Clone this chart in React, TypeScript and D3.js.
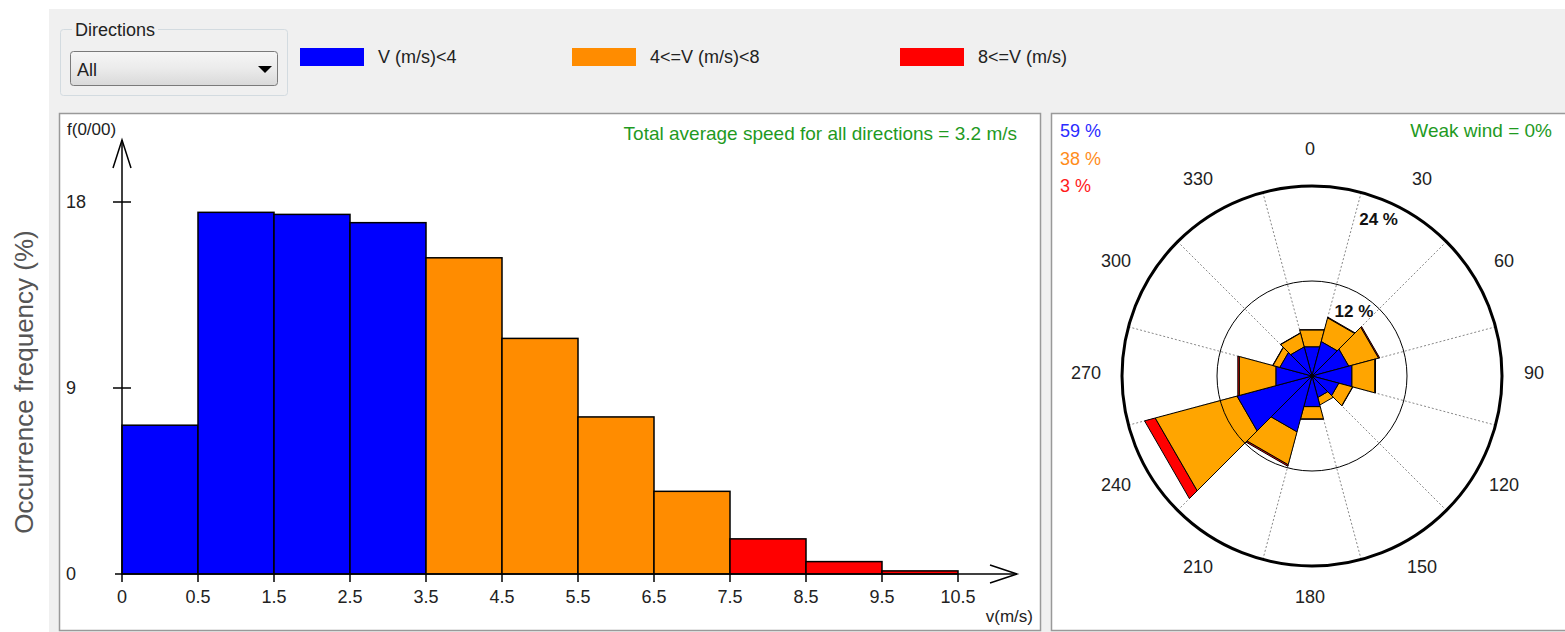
import React from 'react';
import * as d3 from 'd3';

// ---------- data ----------
const binLabels = ["0", "0.5", "1.5", "2.5", "3.5", "4.5", "5.5", "6.5", "7.5", "8.5", "9.5", "10.5"];
const binFreq = [7.2, 17.5, 17.4, 17.0, 15.3, 11.4, 7.6, 4.0, 1.7, 0.6, 0.15];
const binClass = [0, 0, 0, 0, 1, 1, 1, 1, 2, 2, 2];
const yTicks = [0, 9, 18];
const classNames = ["V (m/s)<4", "4<=V (m/s)<8", "8<=V (m/s)"];
const classShares = ["59 %", "38 %", "3 %"];
const directions = [0, 30, 60, 90, 120, 150, 180, 210, 240, 270, 300, 330];
const roseLow = [3.8, 4.5, 4.8, 5.2, 3.5, 2.8, 4.0, 7.3, 9.8, 4.7, 4.2, 3.8];
const roseMid = [2.2, 3.1, 3.9, 3.0, 1.8, 1.0, 1.6, 4.3, 10.7, 4.8, 0.9, 1.8];
const roseHigh = [0.05, 0.1, 0.15, 0.1, 0.05, 0, 0.05, 0.2, 1.4, 0.2, 0.05, 0.05];
const roseRings = [12, 24];

const histColors = ["#0000ff", "#ff8c00", "#ff0000"];
const roseColors = ["#0000ff", "#ffa500", "#ff0000"];
const shareColors = ["#2b2bff", "#ff8c1a", "#ff1a1a"];
const FONT = '"Liberation Sans", Arial, sans-serif';
const TXT = "#222";
const GREEN = "#1f9a1f";

export default function App() {
  // histogram scales
  const x = d3.scaleLinear().domain([0, 11]).range([122, 958]);
  const y = d3.scaleLinear().domain([0, 18]).range([574, 202]);

  // rose
  const cx = 1312, cy = 376;
  const r = d3.scaleLinear().domain([0, 24]).range([0, 190]);
  const rad = (deg: number) => (deg * Math.PI) / 180;
  const ring = (a0: number, a1: number, r0: number, r1: number) => {
    const pts: [number, number][] = r0 <= 0
      ? [[0, 0], [rad(a0), r1], [rad(a1), r1]]
      : [[rad(a0), r0], [rad(a0), r1], [rad(a1), r1], [rad(a1), r0]];
    return d3.lineRadial<[number, number]>().angle(d => d[0]).radius(d => d[1]).curve(d3.curveLinearClosed)(pts) || "";
  };

  return (
    <svg width={1565} height={632} style={{ position: 'absolute', left: 0, top: 0 }} fontFamily={FONT}>
      <defs>
        <linearGradient id="dd" x1="0" y1="0" x2="0" y2="1">
          <stop offset="0" stopColor="#f6f6f6" />
          <stop offset="0.5" stopColor="#ebebeb" />
          <stop offset="1" stopColor="#d9d9d9" />
        </linearGradient>
      </defs>
      <rect x={0} y={0} width={1565} height={632} fill="#ffffff" />
      <rect x={49} y={9} width={1516} height={623} fill="#f0f0f0" />

      {/* rotated y title */}
      <text transform="translate(33,382) rotate(-90)" textAnchor="middle" fontSize={26} fill="#555">Occurrence frequency (%)</text>

      {/* Directions group */}
      <rect x={60.5} y={29.5} width={227} height={66} rx={3} fill="none" stroke="#d3dbe0" />
      <rect x={72} y={22} width={86} height={16} fill="#f0f0f0" />
      <text x={75} y={36} fontSize={18} fill={TXT}>Directions</text>
      <rect x={70.5} y={51.5} width={207} height={34} rx={3} fill="url(#dd)" stroke="#7a7a7a" />
      <text x={77} y={76} fontSize={18} fill={TXT}>All</text>
      <path d="M258,66 L272,66 L265,73 Z" fill="#000" />

      {/* legend */}
      {classNames.map((n, i) => {
        const lx = [300, 572, 900][i];
        return (
          <g key={n}>
            <rect x={lx} y={48} width={64} height={18} fill={histColors[i]} />
            <text x={lx + 78} y={63} fontSize={18} fill={TXT}>{n}</text>
          </g>
        );
      })}

      {/* left panel */}
      <rect x={59.5} y={113.5} width={981} height={517} fill="#fff" stroke="#999" strokeWidth={1.5} />
      <text x={1017} y={140} textAnchor="end" fontSize={19} fill={GREEN}>Total average speed for all directions = 3.2 m/s</text>
      <text x={67} y={135} fontSize={17} fill={TXT}>f(0/00)</text>
      <text x={1033} y={622} textAnchor="end" fontSize={17} fill={TXT}>v(m/s)</text>

      {binFreq.map((f, i) => (
        <rect key={i} x={x(i)} y={y(f)} width={x(i + 1) - x(i)} height={y(0) - y(f)}
          fill={histColors[binClass[i]]} stroke="#000" strokeWidth={1.5} />
      ))}

      {/* axes */}
      <line x1={122} y1={y(0)} x2={122} y2={140} stroke="#000" strokeWidth={1.5} />
      <path d="M113,168 L122,140 L131,168" fill="none" stroke="#000" strokeWidth={1.5} />
      <line x1={115} y1={y(0)} x2={1017} y2={y(0)} stroke="#000" strokeWidth={1.5} />
      <path d="M990,565 L1017,574 L990,583" fill="none" stroke="#000" strokeWidth={1.5} />
      {yTicks.map(t => (
        <g key={t}>
          {t > 0 && <line x1={113} x2={131} y1={y(t)} y2={y(t)} stroke="#000" strokeWidth={1.5} />}
          <text x={66} y={y(t)} dy="0.35em" fontSize={18} fill={TXT}>{t}</text>
        </g>
      ))}
      {binLabels.map((l, i) => (
        <g key={l}>
          <line x1={x(i)} x2={x(i)} y1={y(0)} y2={582} stroke="#000" strokeWidth={1.5} />
          <text x={x(i)} y={603} textAnchor="middle" fontSize={18} fill={TXT}>{l}</text>
        </g>
      ))}

      {/* right panel */}
      <rect x={1051.5} y={113.5} width={530} height={517} fill="#fff" stroke="#999" strokeWidth={1.5} />
      {classShares.map((s, i) => (
        <text key={s} x={1060} y={137 + i * 27.5} fontSize={18} fill={shareColors[i]}>{s}</text>
      ))}
      <text x={1552} y={137} textAnchor="end" fontSize={19} fill={GREEN}>Weak wind = 0%</text>

      <g transform={`translate(${cx},${cy})`}>
        {directions.map(d => {
          const a = rad(d + 15);
          return <line key={d} x1={0} y1={0} x2={r(24) * Math.sin(a)} y2={-r(24) * Math.cos(a)}
            stroke="#888" strokeWidth={1} strokeDasharray="2,2" />;
        })}
        {directions.map((d, i) => {
          const c0 = 0, c1 = roseLow[i], c2 = c1 + roseMid[i], c3 = c2 + roseHigh[i];
          const a0 = d - 15, a1 = d + 15;
          return (
            <g key={d}>
              {roseHigh[i] > 0 && <path d={ring(a0, a1, r(c2), r(c3))} fill={roseColors[2]} stroke="#000" strokeWidth={1} />}
              <path d={ring(a0, a1, r(c1), r(c2))} fill={roseColors[1]} stroke="#000" strokeWidth={1} />
              <path d={ring(a0, a1, c0, r(c1))} fill={roseColors[0]} stroke="#000" strokeWidth={1} />
            </g>
          );
        })}
        {roseRings.map(v => (
          <circle key={v} r={r(v)} fill="none" stroke="#000" strokeWidth={v === 24 ? 3 : 1} />
        ))}
        {roseRings.map(v => (
          <text key={v} x={r(v) * Math.sin(rad(15)) - 2} y={-r(v) * Math.cos(rad(15)) + 33}
            fontSize={17} fontWeight="bold" fill="#111">{v} %</text>
        ))}
      </g>
      {directions.map(d => (
        <text key={d} x={1310 + 224 * Math.sin(rad(d))} y={373 - 224 * Math.cos(rad(d))} dy="0.35em"
          textAnchor="middle" fontSize={18} fill={TXT}>{d}</text>
      ))}
    </svg>
  );
}
